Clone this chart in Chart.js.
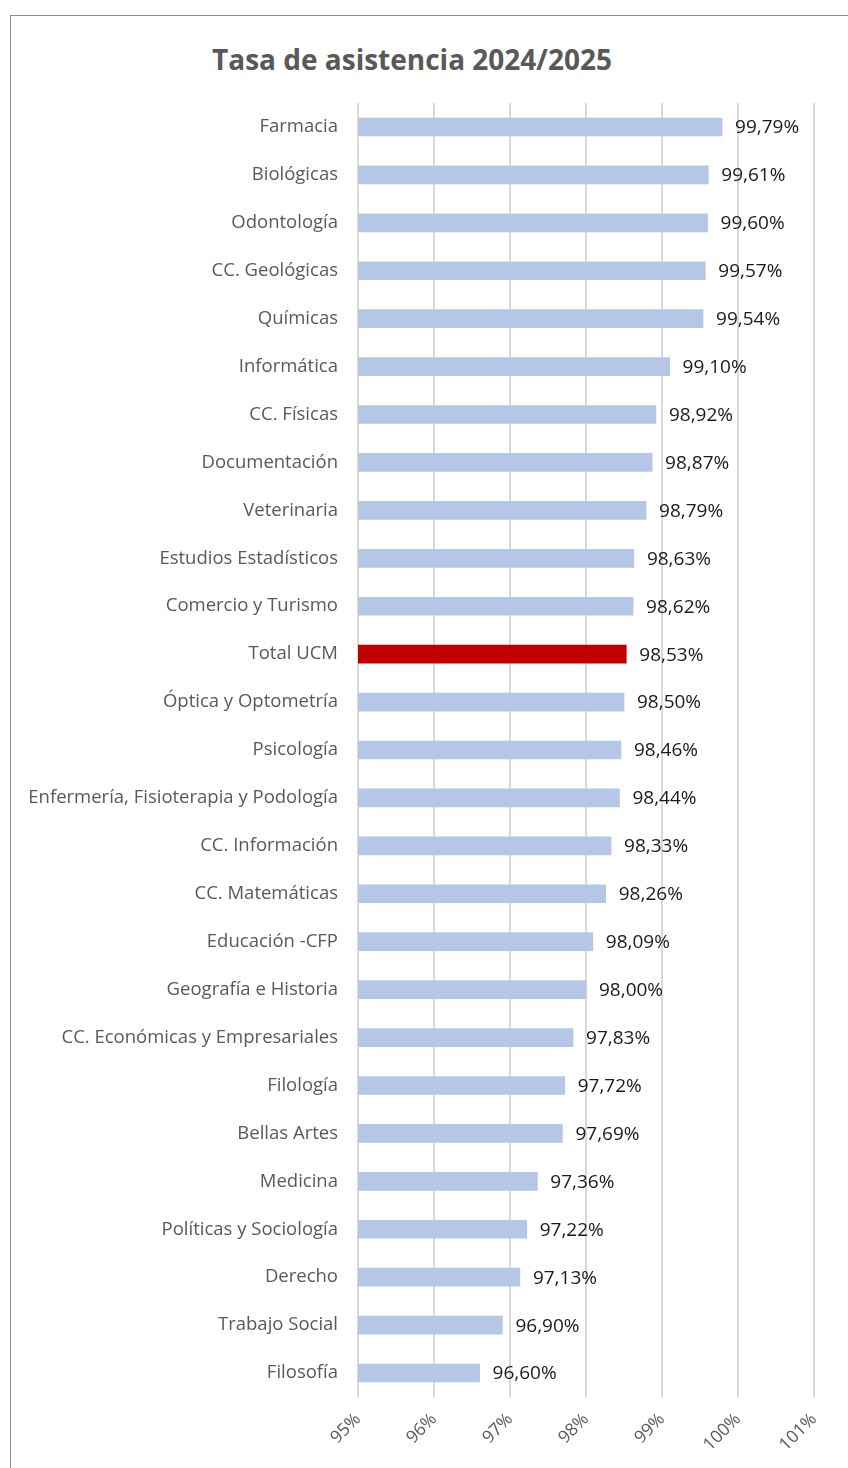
<!DOCTYPE html>
<html>
<head>
<meta charset="utf-8">
<script src="https://cdn.jsdelivr.net/npm/chart.js@4.4.1/dist/chart.umd.min.js"></script>
<style>
  html, body { margin: 0; padding: 0; background: #fff; }
  body { width: 848px; height: 1468px; position: relative; overflow: hidden; }
  #frame { position: absolute; left: 10px; top: 15px; width: 900px; height: 1500px;
           border-left: 1px solid #8c8c8c; border-top: 1px solid #8c8c8c; }
  #title { position: absolute; left: 0; width: 824px; top: 40px; text-align: center;
           font: bold 28px "Open Sans", sans-serif; color: #595959; }
  #myChart { position: absolute; left: 0; top: 0; }
</style>
</head>
<body>
<div id="frame"></div>
<div id="title">Tasa de asistencia 2024/2025</div>
<canvas id="myChart" width="848" height="1468"></canvas>
<script>
// Tasa de asistencia por centro
const labels = ['Farmacia', 'Biológicas', 'Odontología', 'CC. Geológicas', 'Químicas',
  'Informática', 'CC. Físicas', 'Documentación', 'Veterinaria', 'Estudios Estadísticos',
  'Comercio y Turismo', 'Total UCM', 'Óptica y Optometría', 'Psicología',
  'Enfermería, Fisioterapia y Podología', 'CC. Información', 'CC. Matemáticas',
  'Educación -CFP', 'Geografía e Historia', 'CC. Económicas y Empresariales', 'Filología',
  'Bellas Artes', 'Medicina', 'Políticas y Sociología', 'Derecho', 'Trabajo Social', 'Filosofía'];
const data = [99.79, 99.61, 99.60, 99.57, 99.54, 99.10, 98.92, 98.87, 98.79, 98.63,
  98.62, 98.53, 98.50, 98.46, 98.44, 98.33, 98.26, 98.09, 98.00, 97.83, 97.72,
  97.69, 97.36, 97.22, 97.13, 96.90, 96.60];
const ticks = [95, 96, 97, 98, 99, 100, 101];
const highlight = 'Total UCM';

const colors = labels.map(l => l === highlight ? '#c00000' : '#b4c7e7');

// etiquetas de valor a la derecha de cada barra
const valueLabels = {
  id: 'valueLabels',
  afterDatasetsDraw(chart) {
    const c = chart.ctx;
    const meta = chart.getDatasetMeta(0);
    c.save();
    c.font = '19px "Open Sans", sans-serif';
    c.fillStyle = '#1a1a1a';
    c.textBaseline = 'middle';
    c.textAlign = 'left';
    meta.data.forEach((bar, i) => {
      const txt = data[i].toFixed(2).replace('.', ',') + '%';
      c.fillText(txt, bar.x + 13, bar.y + 1);
    });
    c.restore();
  }
};

new Chart(document.getElementById('myChart').getContext('2d'), {
  type: 'bar',
  data: {
    labels: labels,
    datasets: [{
      data: data,
      backgroundColor: colors,
      barThickness: 18
    }]
  },
  options: {
    responsive: false,
    animation: false,
    indexAxis: 'y',
    layout: { padding: { top: 103, right: 34, bottom: 0, left: 0 } },
    plugins: {
      legend: { display: false },
      tooltip: { enabled: false }
    },
    scales: {
      x: {
        min: 95,
        max: 101,
        afterBuildTicks: s => { s.ticks = ticks.map(v => ({ value: v })); },
        afterFit: s => { s.height = 71; },
        grid: { color: '#d9d9d9', lineWidth: 2, drawTicks: false },
        border: { display: false },
        ticks: {
          minRotation: 45,
          maxRotation: 45,
          padding: 12,
          color: '#595959',
          font: { family: 'Open Sans', size: 17.5 },
          callback: v => v + '%'
        }
      },
      y: {
        afterFit: s => { s.width = 358; },
        grid: { display: false, drawTicks: false },
        border: { display: false },
        ticks: {
          padding: 20,
          color: '#595959',
          font: { family: 'Open Sans', size: 18.5 }
        }
      }
    }
  },
  plugins: [valueLabels]
});
</script>
</body>
</html>
